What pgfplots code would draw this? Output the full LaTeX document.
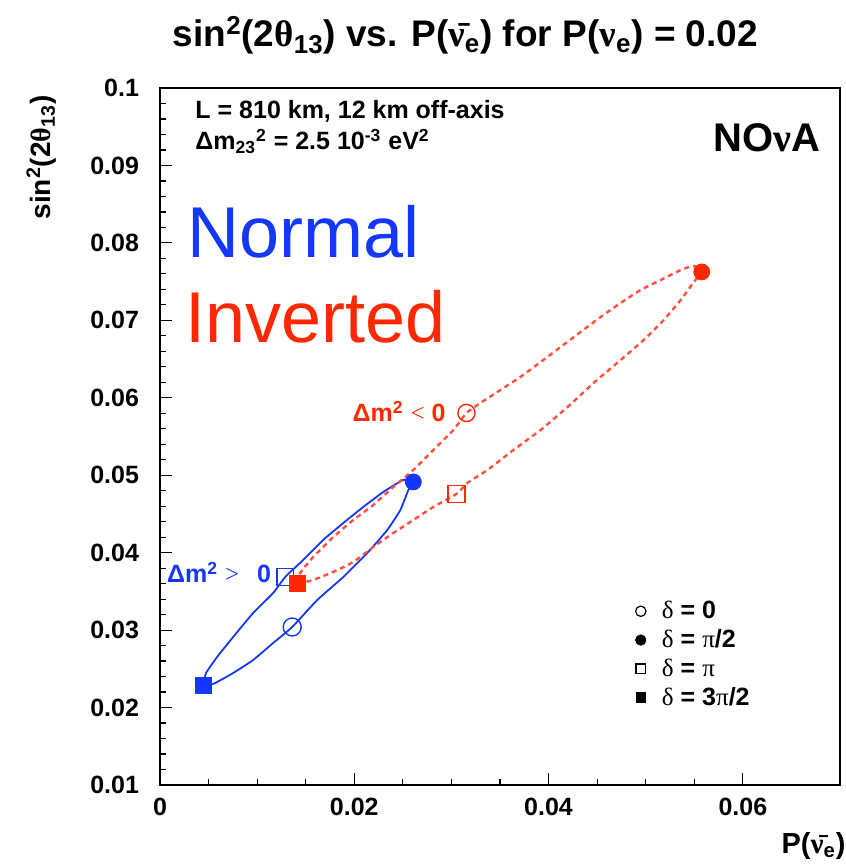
\documentclass[border=0pt]{standalone}
\usepackage{fontspec}
\setmainfont{Liberation Sans}
\newfontfamily\sym{Liberation Serif}
\usepackage{pgfplots}
\pgfplotsset{compat=1.18}

\definecolor{nblue}{RGB}{20,55,250}
\definecolor{ired}{RGB}{255,40,0}
\definecolor{idash}{RGB}{255,80,65}
\tikzset{annot/.style={anchor=base west, inner sep=0pt}}

\begin{document}
\begin{tikzpicture}
\path[use as bounding box] (-80pt,-39.5pt) rectangle (343pt,392.5pt);
\begin{axis}[
    at={(0,0)}, anchor=south west,
    scale only axis, width=340pt, height=348.5pt,
    xmin=0, xmax=0.07, ymin=0.01, ymax=0.1,
    xtick={0,0.02,0.04,0.06},
    ytick={0.01,0.02,0.03,0.04,0.05,0.06,0.07,0.08,0.09,0.1},
    minor x tick num=3, minor y tick num=4,
    tick pos=left, tick align=inside,
    major tick length=6pt, minor tick length=3pt,
    scaled ticks=false,
    /pgf/number format/fixed, /pgf/number format/precision=2,
    /pgf/number format/assume math mode=true,
    tick label style={font=\fontsize{12.5}{14}\selectfont\bfseries},
    x tick label style={yshift=-3pt},
    y tick label style={xshift=-7pt},
    axis line style={line width=0.75pt},
    every tick/.style={black, line width=0.6pt},
    clip=false,
    legend style={draw=none, fill=none, at={(0.690,0.276)}, anchor=north west,
        font=\fontsize{12.5}{14}\selectfont\bfseries, row sep=0pt,
        /tikz/every odd column/.append style={column sep=6pt}},
    legend cell align=left,
]

% Normal hierarchy (blue, solid)
\addplot[nblue, line width=0.9pt, smooth, tension=0.3, forget plot] coordinates {
(0.00443,0.02291) (0.00474,0.02446) (0.00588,0.02653) (0.00753,0.02911)
(0.00959,0.03221) (0.01165,0.03479) (0.01289,0.03686) (0.01474,0.03905)
(0.01680,0.04164) (0.01887,0.04383) (0.02093,0.04590) (0.02299,0.04784)
(0.02505,0.04939) (0.02608,0.04913) (0.02557,0.04809) (0.02474,0.04551)
(0.02340,0.04293) (0.02134,0.03996) (0.01887,0.03686) (0.01619,0.03389)
(0.01361,0.03040) (0.01165,0.02834) (0.00959,0.02614) (0.00753,0.02446)
(0.00546,0.02304) (0.00443,0.02291)
};
\addplot[only marks, mark=o, nblue, mark size=4.5pt, line width=0.7pt, forget plot] coordinates {(0.01361,0.03040)};
\addplot[only marks, mark=*, nblue, mark size=4pt, forget plot] coordinates {(0.02608,0.04913)};
\addplot[only marks, mark=square, nblue, mark size=4.2pt, line width=0.7pt, forget plot] coordinates {(0.01289,0.03686)};
\addplot[only marks, mark=square*, nblue, mark size=4pt, forget plot] coordinates {(0.00443,0.02291)};

% Inverted hierarchy (red, dashed)
\addplot[idash, line width=1.2pt, dash pattern=on 2.5pt off 2pt, smooth, tension=0.3, forget plot] coordinates {
(0.01412,0.03608) (0.01443,0.03738) (0.01577,0.03944) (0.01784,0.04202)
(0.01990,0.04422) (0.02196,0.04616) (0.02402,0.04848) (0.02608,0.05068)
(0.02814,0.05326) (0.03021,0.05584) (0.03155,0.05804) (0.03299,0.05933)
(0.03505,0.06101) (0.03711,0.06269) (0.03918,0.06462) (0.04124,0.06656)
(0.04330,0.06850) (0.04536,0.07043) (0.04742,0.07224) (0.04948,0.07392)
(0.05155,0.07521) (0.05361,0.07650) (0.05495,0.07702) (0.05577,0.07625)
(0.05495,0.07495) (0.05361,0.07263) (0.05186,0.07005) (0.04979,0.06746)
(0.04742,0.06488) (0.04464,0.06191) (0.04196,0.05881) (0.03918,0.05584)
(0.03639,0.05326) (0.03371,0.05068) (0.03165,0.04900) (0.03052,0.04758)
(0.02814,0.04590) (0.02608,0.04422) (0.02402,0.04254) (0.02196,0.04073)
(0.01990,0.03880) (0.01784,0.03751) (0.01577,0.03647) (0.01443,0.03608)
(0.01412,0.03608)
};
\addplot[only marks, mark=o, ired, mark size=4.3pt, line width=0.7pt, forget plot] coordinates {(0.03155,0.05804)};
\addplot[only marks, mark=*, ired, mark size=4pt, forget plot] coordinates {(0.05577,0.07625)};
\addplot[only marks, mark=square, ired, mark size=4.3pt, line width=0.7pt, forget plot] coordinates {(0.03052,0.04758)};
\addplot[only marks, mark=square*, ired, mark size=4pt, forget plot] coordinates {(0.01412,0.03608)};

% legend
\addlegendimage{only marks, mark=o, black, mark size=2.6pt, line width=0.6pt}
\addlegendentry{{\sym\mdseries δ} = 0}
\addlegendimage{only marks, mark=*, black, mark size=2.6pt}
\addlegendentry{{\sym\mdseries δ} = {\sym\mdseries π}/2}
\addlegendimage{only marks, mark=square, black, mark size=2.4pt, line width=0.6pt}
\addlegendentry{{\sym\mdseries δ} = {\sym\mdseries π}}
\addlegendimage{only marks, mark=square*, black, mark size=2.4pt}
\addlegendentry{{\sym\mdseries δ} = 3{\sym\mdseries π}/2}

% annotations
\node[annot, font=\fontsize{12.5}{14}\selectfont\bfseries] at (axis cs:0.00361,0.0960) {L = 810 km, 12 km off-axis};
\node[annot, font=\fontsize{12.5}{14}\selectfont\bfseries] at (axis cs:0.00361,0.0920) {Δm\textsubscript{23}\textsuperscript{2} = 2.5 10\textsuperscript{-3} eV\textsuperscript{2}};
\node[anchor=base, inner sep=0pt, font=\fontsize{20}{22}\selectfont\bfseries] at (axis cs:0.0625,0.09174) {NO{\sym ν}A};
\node[annot, nblue, font=\fontsize{36}{40}\selectfont] at (axis cs:0.0028,0.07805) {Normal};
\node[annot, ired, font=\fontsize{36}{40}\selectfont] at (axis cs:0.0026,0.06708) {Inverted};
\node[annot, nblue, font=\fontsize{12.5}{14}\selectfont\bfseries] at (axis cs:0.0007,0.0361) {Δm\textsuperscript{2} {\sym\mdseries >}\;\, 0};
\node[annot, ired, font=\fontsize{12.5}{14}\selectfont\bfseries] at (axis cs:0.0198,0.0569) {Δm\textsuperscript{2} {\sym\mdseries <} 0};

% title and axis labels
\node[anchor=base, inner sep=0pt, font=\fontsize{18.5}{20}\selectfont\bfseries] at (axis cs:0.03144,0.1053)
  {sin\textsuperscript{2}(2{\sym θ}\textsubscript{13}) vs. P({\sym \={ν}}\textsubscript{e}) for P({\sym ν}\textsubscript{e}) = 0.02};
\node[anchor=east, inner sep=0pt, rotate=90, font=\fontsize{14}{16}\selectfont\bfseries] at (axis cs:-0.0122,0.0991)
  {sin\textsuperscript{2}(2{\sym θ}\textsubscript{13})};
\node[anchor=base east, inner sep=0pt, font=\fontsize{14.5}{16}\selectfont\bfseries] at (axis cs:0.07061,0.0012)
  {P({\sym \={ν}}\textsubscript{e})};
\end{axis}
\end{tikzpicture}
\end{document}
